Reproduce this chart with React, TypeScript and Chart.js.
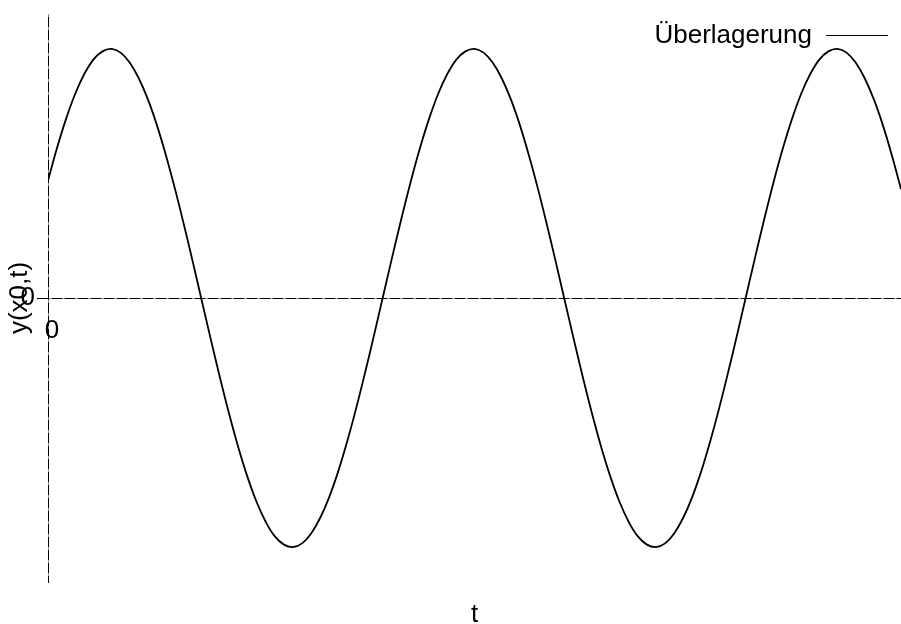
import React, { useEffect, useRef } from 'react';
import { Chart, registerables } from 'chart.js';

Chart.register(...registerables);

const FONT = '"Liberation Sans", Arial, Helvetica, sans-serif';
const FONT_SIZE = 26;

const seriesLabel = 'Überlagerung';
const xTitle = 't';
const yTitle = 'y(x0,t)';

const tValues = [
  0.0, 0.025, 0.05, 0.075, 0.1, 0.125, 0.15, 0.175, 0.2, 0.225,
  0.25, 0.275, 0.3, 0.325, 0.35, 0.375, 0.4, 0.425, 0.45, 0.475,
  0.5, 0.525, 0.55, 0.575, 0.6, 0.625, 0.65, 0.675, 0.7, 0.725,
  0.75, 0.775, 0.8, 0.825, 0.85, 0.875, 0.9, 0.925, 0.95, 0.975,
  1.0, 1.025, 1.05, 1.075, 1.1, 1.125, 1.15, 1.175, 1.2, 1.225,
  1.25, 1.275, 1.3, 1.325, 1.35, 1.375, 1.4, 1.425, 1.45, 1.475,
  1.5, 1.525, 1.55, 1.575, 1.6, 1.625, 1.65, 1.675, 1.7, 1.725,
  1.75, 1.775, 1.8, 1.825, 1.85, 1.875, 1.9, 1.925, 1.95, 1.975,
  2.0, 2.025, 2.05, 2.075, 2.1, 2.125, 2.15, 2.175, 2.2, 2.225,
  2.25, 2.275, 2.3, 2.325, 2.35,
];

const yValues = [
  0.471, 0.603, 0.72, 0.82, 0.899, 0.957, 0.99, 1.0, 0.985, 0.945,
  0.882, 0.798, 0.694, 0.572, 0.437, 0.291, 0.138, -0.019, -0.175, -0.327,
  -0.471, -0.603, -0.72, -0.82, -0.899, -0.957, -0.99, -1.0, -0.985, -0.945,
  -0.882, -0.798, -0.694, -0.572, -0.437, -0.291, -0.138, 0.019, 0.175, 0.327,
  0.471, 0.603, 0.72, 0.82, 0.899, 0.957, 0.99, 1.0, 0.985, 0.945,
  0.882, 0.798, 0.694, 0.572, 0.437, 0.291, 0.138, -0.019, -0.175, -0.327,
  -0.471, -0.603, -0.72, -0.82, -0.899, -0.957, -0.99, -1.0, -0.985, -0.945,
  -0.882, -0.798, -0.694, -0.572, -0.437, -0.291, -0.138, 0.019, 0.175, 0.327,
  0.471, 0.603, 0.72, 0.82, 0.899, 0.957, 0.99, 1.0, 0.985, 0.945,
  0.882, 0.798, 0.694, 0.572, 0.437,
];

const xTickValues = [0];
const yTickValues = [0];

const xMin = 0;
const xMax = 2.35;
const yMin = -1.14;
const yMax = 1.14;

// make sure axis border positions are known before borders are drawn,
// so that the dashed grey grid lines can be painted on top of the black axes
const precomputeAxes = {
  id: 'precomputeAxes',
  beforeDraw(chart: any) {
    Object.values(chart.scales).forEach((s: any) => {
      if (s.options.grid && s.options.grid.display && !s._gridLineItems && typeof s._computeGridLineItems === 'function') {
        s._gridLineItems = s._computeGridLineItems(chart.chartArea);
      }
    });
  },
};

const insideLegend = {
  id: 'insideLegend',
  afterDraw(chart: any) {
    const { ctx, chartArea } = chart;
    const ds = chart.data.datasets[0];
    ctx.save();
    ctx.font = `${FONT_SIZE}px ${FONT}`;
    ctx.fillStyle = '#000';
    ctx.textAlign = 'right';
    ctx.textBaseline = 'alphabetic';
    const lineEnd = chartArea.right - 13;
    const lineStart = lineEnd - 62;
    ctx.fillText(ds.label, lineStart - 14, chartArea.top + 29);
    ctx.strokeStyle = ds.borderColor;
    ctx.lineWidth = 1;
    ctx.beginPath();
    ctx.moveTo(lineStart, chartArea.top + 21.5);
    ctx.lineTo(lineEnd, chartArea.top + 21.5);
    ctx.stroke();
    ctx.restore();
  },
};

export default function App() {
  const canvasRef = useRef<HTMLCanvasElement | null>(null);

  useEffect(() => {
    if (!canvasRef.current) return;
    const chart = new Chart(canvasRef.current, {
      type: 'line',
      data: {
        datasets: [
          {
            label: seriesLabel,
            data: tValues.map((t, i) => ({ x: t, y: yValues[i] })),
            borderColor: '#000',
            borderWidth: 1.8,
            pointRadius: 0,
            fill: false,
            tension: 0.4,
            xAxisID: 'x',
            yAxisID: 'y',
          },
        ],
      },
      options: {
        animation: false,
        responsive: true,
        maintainAspectRatio: false,
        layout: { padding: { top: 14, left: 0, right: 0, bottom: 0 } },
        plugins: {
          legend: { display: false },
          tooltip: { enabled: false },
        },
        scales: {
          x: {
            type: 'linear',
            axis: 'x',
            min: xMin,
            max: xMax,
            position: { y: 0 },
            afterBuildTicks: (s: any) => {
              s.ticks = xTickValues.map((v) => ({ value: v }));
            },
            afterFit: (s: any) => {
              s.paddingLeft = 0;
              s.paddingRight = 0;
            },
            ticks: {
              font: { family: FONT, size: FONT_SIZE },
              color: '#000',
              padding: 17,
              labelOffset: 4,
              maxRotation: 0,
              autoSkip: false,
            },
            grid: { display: true, drawTicks: false, color: '#8c8c8c', z: 1 },
            border: { display: true, color: '#000', width: 1, dash: [3, 10] },
            title: { display: false },
          },
          x2: {
            type: 'linear',
            axis: 'x',
            position: 'bottom',
            min: xMin,
            max: xMax,
            ticks: { display: false },
            grid: { display: false, drawTicks: false },
            border: { display: false },
            title: {
              display: true,
              text: xTitle,
              color: '#000',
              font: { family: FONT, size: FONT_SIZE, lineHeight: 1 },
              padding: { top: 20, bottom: -4 },
            },
          },
          y: {
            type: 'linear',
            position: 'left',
            min: yMin,
            max: yMax,
            afterFit: (s: any) => {
              s.width = 48;
              s.paddingTop = 0;
              s.paddingBottom = 0;
            },
            afterBuildTicks: (s: any) => {
              s.ticks = yTickValues.map((v) => ({ value: v }));
            },
            ticks: {
              font: { family: FONT, size: FONT_SIZE },
              color: '#000',
              padding: 2,
            },
            grid: { color: '#8c8c8c', tickLength: 11, tickColor: '#000', z: 1 },
            border: { display: true, color: '#000', width: 1, dash: [3, 10] },
            title: {
              display: true,
              text: yTitle,
              color: '#000',
              font: { family: FONT, size: FONT_SIZE },
              padding: 4,
            },
          },
        },
      } as any,
      plugins: [precomputeAxes, insideLegend],
    });
    return () => chart.destroy();
  }, []);

  return (
    <div
      style={{
        position: 'fixed',
        left: 0,
        top: 0,
        width: 901,
        height: 624,
        background: '#fff',
      }}
    >
      <canvas ref={canvasRef} />
    </div>
  );
}
